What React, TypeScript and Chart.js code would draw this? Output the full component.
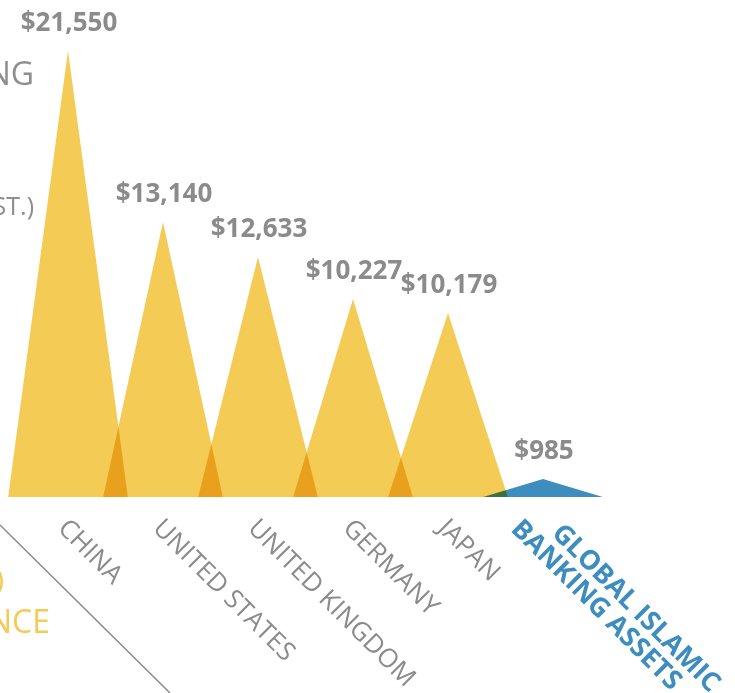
import { useEffect, useRef } from "react";
import { Chart, registerables } from "chart.js";

Chart.register(...registerables);

// ---- data ----
const categoryLines: string[][] = [
  ["CHINA"],
  ["UNITED STATES"],
  ["UNITED KINGDOM"],
  ["GERMANY"],
  ["JAPAN"],
  ["GLOBAL ISLAMIC", "BANKING ASSETS"],
];
// values printed above each peak (US$ billions)
const values = [21550, 13140, 12633, 10227, 10179, 985];
// peak heights as actually drawn in the reference graphic
const drawnPeaks = [21550, 13280, 11590, 9560, 8885, 870];
const highlightIndex = 5;

const YELLOW = "#F4CB55";
const BLUE = "#3E8DBF";
const GREY = "#8B8B8B";
const HALF_BASE = 0.63;

const fmt = (v: number) => "$" + v.toLocaleString("en-US");

export default function App() {
  const ref = useRef<HTMLCanvasElement>(null);

  useEffect(() => {
    const canvas = ref.current!;
    const datasets = drawnPeaks.map((h, i) => ({
      label: categoryLines[i].join(" "),
      data: [
        { x: i - HALF_BASE, y: 0 },
        { x: i, y: h },
        { x: i + HALF_BASE, y: 0 },
      ],
      fill: "origin",
      backgroundColor: i === highlightIndex ? BLUE : YELLOW,
      borderColor: "rgba(0,0,0,0)",
      borderWidth: 0,
      pointRadius: 0,
      tension: 0,
    }));

    const blend = {
      id: "blend",
      beforeDatasetsDraw(c: any) {
        c.ctx.save();
        c.ctx.globalCompositeOperation = "multiply";
      },
      afterDatasetsDraw(c: any) {
        c.ctx.restore();
      },
    };

    const labels = {
      id: "labels",
      afterDraw(c: any) {
        const ctx = c.ctx as CanvasRenderingContext2D;
        const xs = c.scales.x;
        const ys = c.scales.y;
        const base = ys.getPixelForValue(0);
        ctx.save();
        // value labels
        ctx.fillStyle = GREY;
        ctx.font = 'bold 26px "Open Sans"';
        ctx.textAlign = "center";
        ctx.textBaseline = "alphabetic";
        drawnPeaks.forEach((h, i) => {
          ctx.fillText(fmt(values[i]), xs.getPixelForValue(i) + 1, ys.getPixelForValue(h) - 20);
        });
        // category labels, rotated 45deg
        categoryLines.forEach((lines, i) => {
          const px = xs.getPixelForValue(i);
          ctx.save();
          ctx.translate(px, base);
          ctx.rotate(Math.PI / 4);
          ctx.textAlign = "left";
          if (i === highlightIndex) {
            ctx.fillStyle = BLUE;
            ctx.font = 'bold 27px "Open Sans"';
            ctx.fillText(lines[0], 32, 21);
            ctx.fillText(lines[1], 0, 47);
          } else {
            ctx.fillStyle = GREY;
            ctx.font = '400 26px "Open Sans"';
            ctx.fillText(lines[0], 15, 31);
          }
          ctx.restore();
        });
        // cropped fragments of the surrounding infographic
        ctx.textAlign = "right";
        ctx.fillStyle = "#8E8E8E";
        ctx.font = '400 32px "Open Sans"';
        ctx.fillText("GLOBAL BANKING", 34, 85);
        ctx.font = '400 25px "Open Sans"';
        ctx.fillText("(EST.)", 34, 215);
        ctx.fillStyle = YELLOW;
        ctx.font = '400 30px "Open Sans"';
        ctx.fillText("(2010)", 4, 590);
        ctx.font = '400 32px "Open Sans"';
        ctx.fillText("FINANCE", 50, 633);
        // diagonal rule
        ctx.strokeStyle = "#8A8A8A";
        ctx.lineWidth = 1.5;
        ctx.beginPath();
        ctx.moveTo(0, 525);
        ctx.lineTo(170, 693);
        ctx.stroke();
        ctx.restore();
      },
    };

    const chart = new Chart(canvas, {
      type: "line",
      data: { datasets: datasets as any },
      options: {
        animation: false,
        responsive: false,
        layout: { padding: { left: 0, right: 0, top: 0, bottom: 196 } },
        plugins: { legend: { display: false }, tooltip: { enabled: false } },
        scales: {
          x: { type: "linear", min: -0.7158, max: 7.021, display: false },
          y: { min: 0, max: 24000, display: false },
        },
      },
      plugins: [blend, labels],
    });
    return () => chart.destroy();
  }, []);

  return (
    <div style={{ position: "fixed", left: 0, top: 0, width: 735, height: 693, background: "#fff" }}>
      <canvas ref={ref} width={735} height={693} />
    </div>
  );
}
